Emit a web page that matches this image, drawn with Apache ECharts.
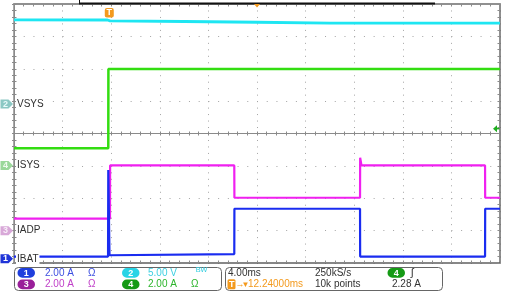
<!DOCTYPE html>
<html><head><meta charset="utf-8">
<script src="https://cdn.jsdelivr.net/npm/echarts@6/dist/echarts.min.js"></script>
<style>html,body{margin:0;padding:0;background:#fff}#c{width:505px;height:293px}</style>
</head><body><div id="c"></div>
<script>
// Screen time in ms (graticule left edge = 0, 4.00 ms/div, 10 div)
const timePerDiv = 4;
const triggerTime = 7.76;          // trigger point: centre (20 ms) - 12.24 ms
const triggerLevelA = 2.28;        // ch4 trigger level

// Channel settings: units per division and ground marker position (divisions from centre)
const ch1 = {name: 'IBAT', scale: 2, offset: -3.87, color: '#1a2cf0'};
const ch2 = {name: 'VSYS', scale: 5, offset: 0.91, color: '#1ee6f2'};
const ch3 = {name: 'IADP', scale: 2, offset: -3.0, color: '#f020f0'};
const ch4 = {name: 'ISYS', scale: 2, offset: -0.99, color: '#33dd11'};

// Channel 2 – VSYS (V)
const vsysTime = [0, 7.7, 7.9, 14, 20, 26, 40];
const vsysVolts = [13.0, 12.98, 12.85, 12.75, 12.63, 12.5, 12.5];
// Channel 4 – ISYS (A)
const isysTime = [0, 7.76, 7.77, 40];
const isysAmps = [1.07, 1.07, 5.97, 5.97];
// Channel 3 – IADP (A)
const iadpTime = [0, 7.9, 7.91, 18.13, 18.14, 28.48, 28.49, 28.6, 38.77, 38.78, 40];
const iadpAmps = [0.74, 0.74, 4.03, 4.03, 2.03, 2.03, 4.5, 4.03, 4.03, 2.03, 2.03];
// Channel 1 – IBAT (A)
const ibatTime = [0, 7.74, 7.76, 7.86, 18.13, 18.14, 28.48, 28.49, 38.77, 38.78, 40];
const ibatAmps = [0.14, 0.14, 5.49, 0.22, 0.29, 3.09, 3.09, 0.14, 0.14, 3.09, 3.09];

const FONT = '"Liberation Sans", Arial, sans-serif';
const frameColor = '#8c8c8c';
const dotColor = '#a4a4a4';

function toDiv(ch, t, v) { return t.map((x, i) => [x, v[i] / ch.scale + ch.offset]); }

function xAx(extra) {
  return Object.assign({
    type: 'value', min: 0, max: 10 * timePerDiv, interval: timePerDiv,
    axisLabel: {show: false}, splitLine: {show: false},
    axisLine: {show: true, onZero: false, lineStyle: {color: frameColor, width: 1.5}},
    axisTick: {show: true, inside: true, length: 2.5, lineStyle: {color: frameColor}},
    minorTick: {show: true, splitNumber: 5, length: 2.5, lineStyle: {color: frameColor}}
  }, extra);
}
function yAx(extra) {
  return Object.assign({
    type: 'value', min: -4, max: 4, interval: 1,
    axisLabel: {show: false}, splitLine: {show: false},
    axisLine: {show: true, onZero: false, lineStyle: {color: frameColor, width: 1.5}},
    axisTick: {show: true, inside: true, length: 2.5, lineStyle: {color: frameColor}},
    minorTick: {show: true, splitNumber: 5, length: 2.5, lineStyle: {color: frameColor}}
  }, extra);
}

const chart = echarts.init(document.getElementById('c'), null, {renderer: 'canvas'});
const option = {
  animation: false,
  backgroundColor: '#ffffff',
  grid: {left: 14, top: 4, right: 5, bottom: 30, containLabel: false},
  xAxis: [
    xAx({position: 'bottom', axisLine: {show: true, onZero: false, lineStyle: {color: '#606060', width: 1.5}},
         splitLine: {show: true, lineStyle: {color: dotColor, width: 1, type: [1, 5.475]}}}),
    xAx({position: 'top', axisLine: {show: true, onZero: false, lineStyle: {color: '#909090', width: 2}}}),
    xAx({position: 'bottom', axisLine: {show: true, onZero: true, onZeroAxisIndex: 0, lineStyle: {color: '#8a8a8a', width: 1}},
         axisTick: {show: true, inside: false, length: 2, lineStyle: {color: '#8a8a8a'}},
         minorTick: {show: true, splitNumber: 5, length: 2, lineStyle: {color: '#8a8a8a'}}}),
    xAx({position: 'bottom', axisLine: {show: true, onZero: true, onZeroAxisIndex: 0, lineStyle: {color: '#8a8a8a', width: 1}},
         axisTick: {show: true, inside: true, length: 2, lineStyle: {color: '#8a8a8a'}},
         minorTick: {show: true, splitNumber: 5, length: 2, lineStyle: {color: '#8a8a8a'}}})
  ],
  yAxis: [
    yAx({position: 'left', splitLine: {show: true, lineStyle: {color: dotColor, width: 1, type: [1, 8.72]}}}),
    yAx({position: 'right', axisLine: {show: true, onZero: false, lineStyle: {color: '#6a6a6a', width: 1.5}}}),
    yAx({position: 'left', axisLine: {show: true, onZero: true, onZeroAxisIndex: 0, lineStyle: {color: '#8a8a8a', width: 1}},
         axisTick: {show: true, inside: false, length: 2, lineStyle: {color: '#8a8a8a'}},
         minorTick: {show: true, splitNumber: 5, length: 2, lineStyle: {color: '#8a8a8a'}}}),
    yAx({position: 'left', axisLine: {show: true, onZero: true, onZeroAxisIndex: 0, lineStyle: {color: '#8a8a8a', width: 1}},
         axisTick: {show: true, inside: true, length: 2, lineStyle: {color: '#8a8a8a'}},
         minorTick: {show: true, splitNumber: 5, length: 2, lineStyle: {color: '#8a8a8a'}}})
  ],
  series: [
    {type: 'line', name: ch2.name, data: toDiv(ch2, vsysTime, vsysVolts), showSymbol: false, silent: true,
     lineStyle: {color: ch2.color, width: 2.8}, z: 3},
    {type: 'line', name: ch4.name, data: toDiv(ch4, isysTime, isysAmps), showSymbol: false, silent: true,
     lineStyle: {color: ch4.color, width: 2.5}, z: 4},
    {type: 'line', name: ch3.name, data: toDiv(ch3, iadpTime, iadpAmps), showSymbol: false, silent: true,
     lineStyle: {color: ch3.color, width: 2.2}, z: 5},
    {type: 'line', name: ch1.name, data: toDiv(ch1, ibatTime, ibatAmps), showSymbol: false, silent: true,
     lineStyle: {color: ch1.color, width: 2.2}, z: 6}
  ]
};
chart.setOption(option);

const px = (t, d) => chart.convertToPixel({xAxisIndex: 0, yAxisIndex: 0}, [t, d]);
const g = [];

// clipped header text at very top
g.push({type: 'text', x: 3, y: 2.5, style: {text: 'Tek', fill: '#222', font: 'bold 9px ' + FONT, align: 'left', verticalAlign: 'bottom'}, z: 20});
g.push({type: 'text', x: 22, y: 2.5, style: {text: 'PreVu', fill: '#999', font: '9px ' + FONT, align: 'left', verticalAlign: 'bottom'}, z: 20});
// record-view bar on top of graticule
g.push({type: 'line', shape: {x1: 79, y1: 3.5, x2: 435, y2: 3.5}, style: {stroke: '#111', lineWidth: 2}, z: 20});
g.push({type: 'line', shape: {x1: 79.5, y1: 0, x2: 79.5, y2: 4}, style: {stroke: '#111', lineWidth: 1}, z: 20});

// channel ground markers and labels
const markerFill = {1: '#2035d8', 2: '#8cc8c4', 3: '#d8a8d8', 4: '#9ad89a'};
const markerText = {1: '#ffffff', 2: '#e8fafa', 3: '#f8eef8', 4: '#effaef'};
[[1, ch1], [2, ch2], [3, ch3], [4, ch4]].forEach(([n, ch]) => {
  const y = px(0, ch.offset)[1];
  g.push({type: 'polygon', shape: {points: [[0.5, y - 4.5], [8.5, y - 4.5], [13, y], [8.5, y + 4.5], [0.5, y + 4.5]]},
          style: {fill: markerFill[n]}, z: 30});
  g.push({type: 'text', x: 5.5, y: y, style: {text: String(n), fill: markerText[n], font: 'bold 9px ' + FONT,
          align: 'center', verticalAlign: 'middle'}, z: 31});
  g.push({type: 'text', x: 16, y: y, style: {text: ch.name, fill: '#303030', font: '10px ' + FONT,
          align: 'left', verticalAlign: 'middle', backgroundColor: '#ffffff', padding: [1, 1, 1, 1]}, z: 30});
});

// trigger marker (T) at trigger time
const tp = px(triggerTime, 4);
g.push({type: 'rect', shape: {x: tp[0] - 3.5, y: 8, width: 9, height: 9.5, r: 2}, style: {fill: '#f39a1e'}, z: 30});
g.push({type: 'text', x: tp[0] + 1, y: 12.9, style: {text: 'T', fill: '#fff', font: 'bold 9px ' + FONT, align: 'center', verticalAlign: 'middle'}, z: 31});
// expansion point marker (screen centre)
const cp = px(5 * timePerDiv, 4);
g.push({type: 'polygon', shape: {points: [[cp[0] - 3, 4], [cp[0] + 3, 4], [cp[0], 7.5]]}, style: {fill: '#f39a1e'}, z: 30});
// trigger level arrow (ch4)
const lp = px(10 * timePerDiv, triggerLevelA / ch4.scale + ch4.offset);
g.push({type: 'polygon', shape: {points: [[lp[0] - 7, lp[1]], [lp[0] - 3, lp[1] - 3.5], [lp[0] - 3, lp[1] + 3.5]]}, style: {fill: '#1fae1f'}, z: 30});
g.push({type: 'line', shape: {x1: lp[0] - 3.5, y1: lp[1], x2: lp[0] - 0.5, y2: lp[1]}, style: {stroke: '#1fae1f', lineWidth: 1.5}, z: 30});

// bottom readout panel
const r1 = 272.8, r2 = 284.3;
g.push({type: 'rect', shape: {x: 14.5, y: 267.5, width: 207, height: 23, r: 4}, style: {fill: '#fff', stroke: '#666', lineWidth: 1}, z: 10});
g.push({type: 'rect', shape: {x: 225.5, y: 267.5, width: 217, height: 23, r: 4}, style: {fill: '#fff', stroke: '#666', lineWidth: 1}, z: 10});
function pill(x, y, n, fill) {
  g.push({type: 'rect', shape: {x: x, y: y - 4.7, width: 17.5, height: 9.6, r: 4.8}, style: {fill: fill}, z: 11});
  g.push({type: 'text', x: x + 8.75, y: y + 0.3, style: {text: String(n), fill: '#fff', font: 'bold 9px ' + FONT, align: 'center', verticalAlign: 'middle'}, z: 12});
}
function txt(x, y, s, color, size, bold) {
  g.push({type: 'text', x: x, y: y, style: {text: s, fill: color, font: (bold ? 'bold ' : '') + (size || 10) + 'px ' + FONT, align: 'left', verticalAlign: 'middle'}, z: 12});
}
pill(17.5, r1, 1, '#1f3fdd');
txt(45, r1, '2.00 A', '#3c4ee0');
txt(88, r1, 'Ω', '#3c4ee0');
pill(122, r1, 2, '#28d4e6');
txt(148, r1, '5.00 V', '#3ed0e2');
txt(196, r1 - 1, 'ᴮᵂ', '#3ed0e2', 11);
pill(17.5, r2, 3, '#9a1f9a');
txt(45, r2, '2.00 A', '#c040c8');
txt(88, r2, 'Ω', '#c040c8');
pill(122, r2, 4, '#159a15');
txt(148, r2, '2.00 A', '#2cb52c');
txt(191, r2, 'Ω', '#2cb52c');
txt(228, r1, '4.00ms', '#333');
txt(315, r1, '250kS/s', '#333');
g.push({type: 'rect', shape: {x: 227.5, y: r2 - 5, width: 8, height: 10, r: 1.5}, style: {fill: '#f39a1e'}, z: 11});
txt(229, r2 + 0.3, 'T', '#fff', 9, true);
txt(235.5, r2, '→', '#f39a1e', 9, true);
txt(241.5, r2, '▼', '#f39a1e', 8);
txt(248, r2, '12.24000ms', '#f39a1e');
txt(315, r2, '10k points', '#333');
pill(387.5, r1, 4, '#159a15');
txt(411, r1, 'ʃ', '#333', 11);
txt(392, r2, '2.28 A', '#333');

chart.setOption({graphic: g});
</script>
</body></html>
